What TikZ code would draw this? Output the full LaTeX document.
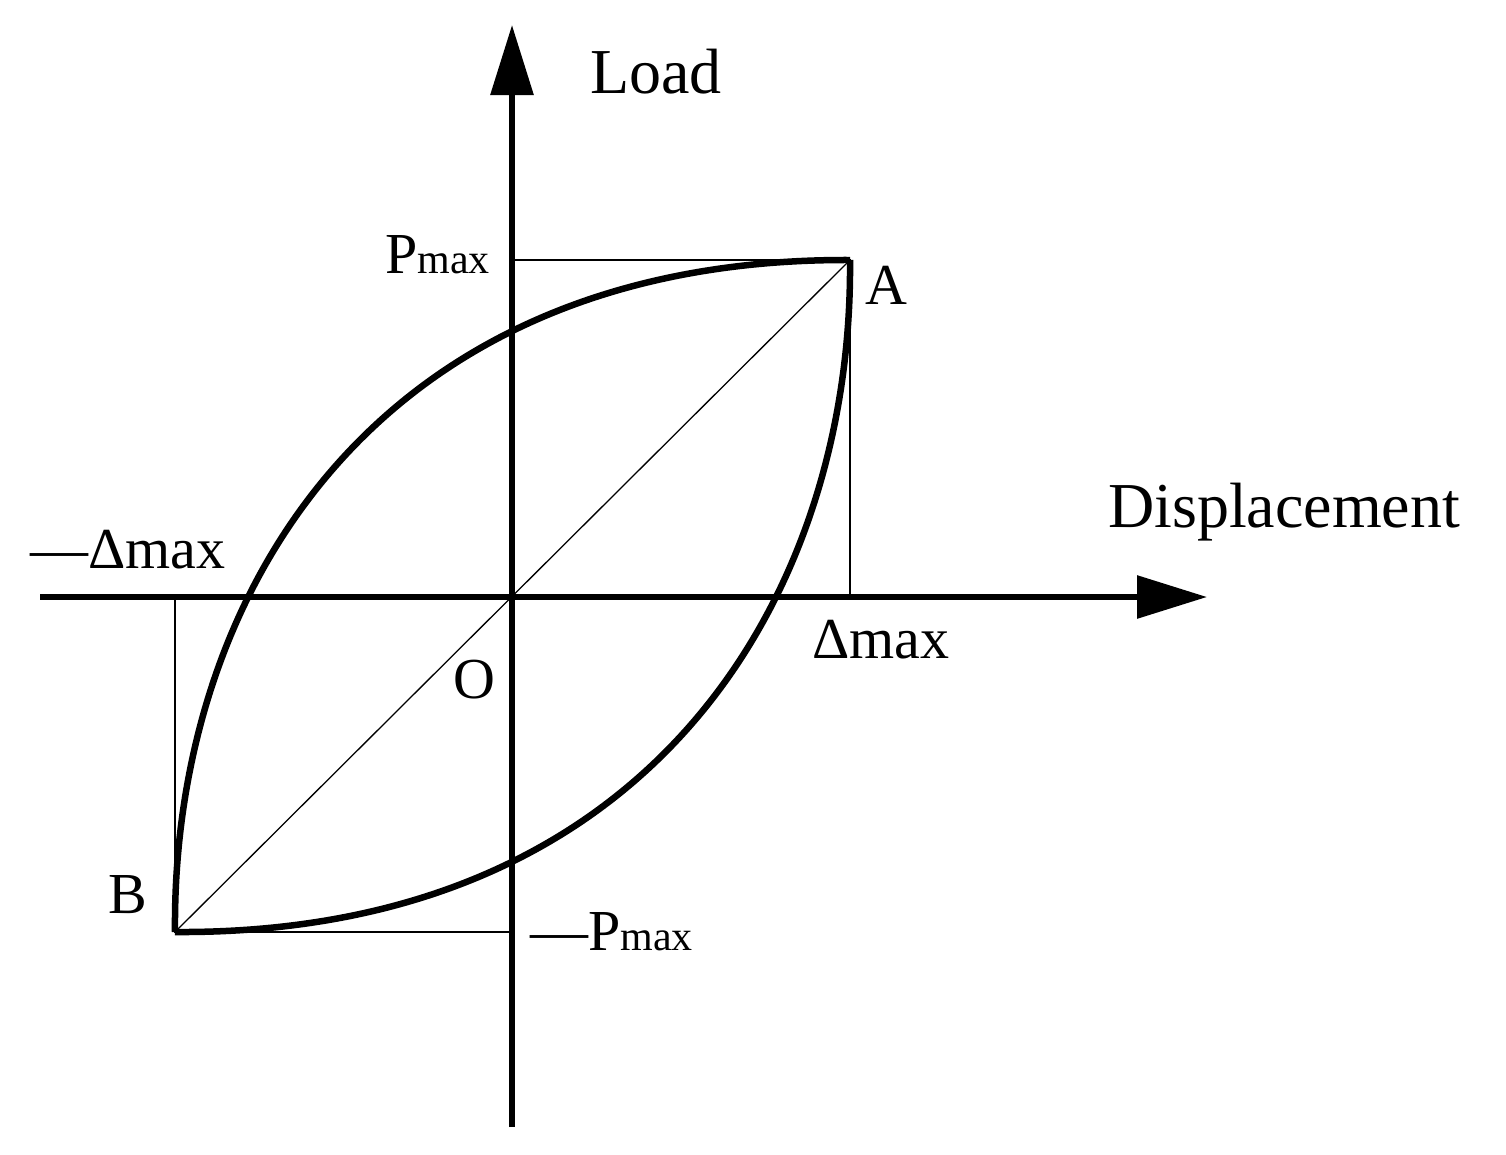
\documentclass[tikz,border=0pt]{standalone}
\usepackage{fontspec}
\setmainfont{Liberation Serif}
\usetikzlibrary{arrows.meta}
\begin{document}
\begin{tikzpicture}[x=1pt,y=-1pt,
  axis/.style={line width=6pt,-{Triangle[length=70pt,width=42pt]}},
  thin/.style={line width=1.3pt},
  curve/.style={line width=6.5pt,line join=round},
  lbl/.style={font=\fontsize{58}{58}\selectfont,inner sep=0pt},
  big/.style={font=\fontsize{64}{64}\selectfont,inner sep=0pt}]
\useasboundingbox (0,0) rectangle (1506,1154);
\coordinate (O) at (512,597);
\coordinate (xs) at (40,597);
\coordinate (xe) at (1207,597);
\coordinate (ys) at (512,1127);
\coordinate (ye) at (512,25);
\coordinate (A) at (850,260);
\coordinate (B) at (175,932);
\coordinate (Py) at (512,260);
\coordinate (Ax) at (850,597);
\coordinate (Bx) at (175,597);
\coordinate (Ny) at (512,932);
\draw[thin] (Py) -- (A) -- (Ax);
\draw[thin] (Bx) -- (B) -- (Ny);
\draw[thin] (B) -- (A);
\draw[curve] (B) .. controls (172,600) and (370,258) .. (A);
\draw[curve] (A) .. controls (853,592) and (655,935) .. (B);
\draw[axis] (xs) -- (xe);
\draw[axis] (ys) -- (ye);
\node[big,anchor=west] (load) at (590,72) {Load};
\node[big,anchor=west] (disp) at (1108,512) {Displacement};
\node[lbl,anchor=west] (pmax) at (385,255) {P{\fontsize{42}{42}\selectfont max}};
\node[lbl,anchor=west] (a) at (865,285) {A};
\node[lbl,anchor=west] (b) at (108,895) {B};
\node[lbl,anchor=west] (o) at (453,680) {O};
\node[lbl,anchor=west] (dmax) at (812,640) {Δmax};
\node[lbl,anchor=west] (ndmax) at (30,550) {—Δmax};
\node[lbl,anchor=west] (npmax) at (530,932) {—P{\fontsize{42}{42}\selectfont max}};
\end{tikzpicture}
\end{document}
